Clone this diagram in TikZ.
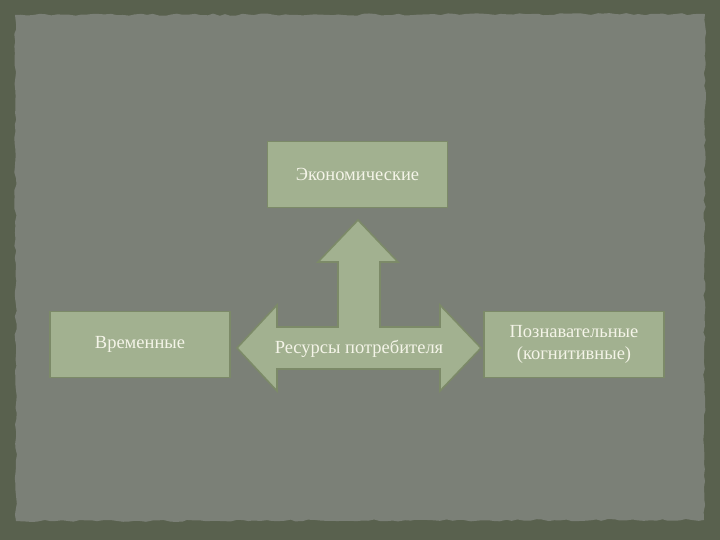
\documentclass[tikz,border=0pt]{standalone}
\usepackage{fontspec}
\setmainfont{Liberation Serif}
\usetikzlibrary{decorations.pathmorphing}
\definecolor{outerbg}{HTML}{59614E}
\definecolor{innerbg}{HTML}{7B8077}
\definecolor{boxfill}{HTML}{A2B190}
\definecolor{boxline}{HTML}{7C8A68}
\definecolor{txt}{HTML}{F4F4E8}
\tikzset{
  greenbox/.style={draw=boxline, line width=1.6pt, fill=boxfill, minimum width=180pt, minimum height=66pt, inner sep=0pt, text=txt, font=\fontsize{18.5}{22}\selectfont, align=center},
  lbl/.style={text=txt, font=\fontsize{18.5}{22}\selectfont, align=center, inner sep=0pt}
}
\begin{document}
\begin{tikzpicture}[x=1pt,y=-1pt]
\useasboundingbox (0,0) rectangle (720,540);
\fill[outerbg] (0,0) rectangle (720,540);
\pgfmathsetseed{7}
\fill[innerbg, decorate, decoration={random steps, segment length=6pt, amplitude=1.1pt}]
  (15,15) -- (705,14) -- (704,520) -- (16,521) -- cycle;
% boxes
\node[greenbox] (ek) at (357.5,174.5) {Экономические};
\node[greenbox] (vr) at (140,344.5) {Временные};
\node[greenbox] (po) at (574,344.5) {Познавательные\\(когнитивные)};
% T-arrow
\draw[boxline, line width=1.6pt, fill=boxfill, line join=miter]
  (358,220) -- (398,262) -- (380,262) -- (380,327) -- (440,327) -- (440,305)
  -- (481,348) -- (440,391) -- (440,369) -- (277,369) -- (277,391)
  -- (237,348) -- (277,305) -- (277,327) -- (338,327) -- (338,262)
  -- (318,262) -- cycle;
\node[lbl] (res) at (359,349) {Ресурсы потребителя};
\end{tikzpicture}
\end{document}
